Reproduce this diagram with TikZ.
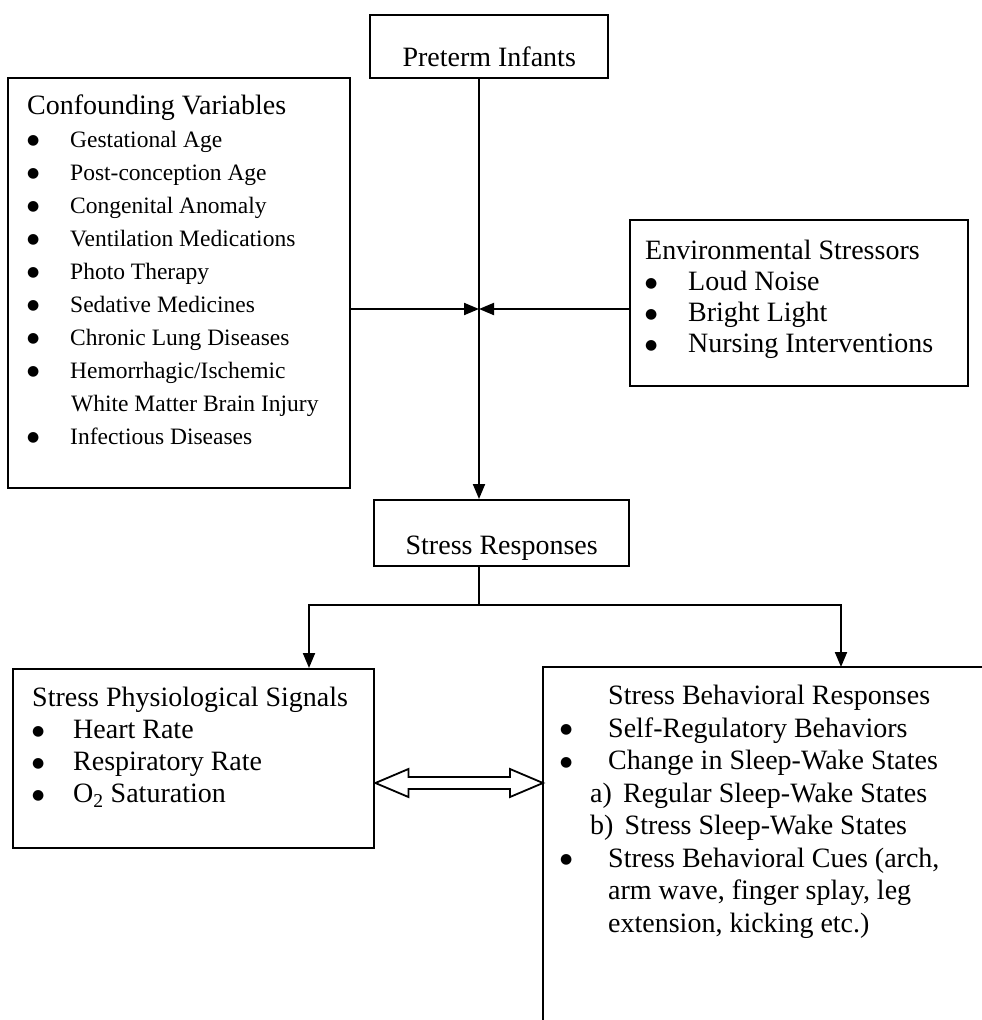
\documentclass[tikz,border=0pt]{standalone}
\usepackage{fontspec}
\setmainfont{Liberation Serif}
\newfontfamily\symfont{DejaVu Sans}
\usetikzlibrary{calc}
\usetikzlibrary{positioning,arrows.meta}
\tikzstyle{box} = [rectangle, draw=black, line width=2.4pt, inner sep=0pt, anchor=north west]
\tikzstyle{headbox} = [box, text depth=12pt, font=\fontsize{28}{32}\selectfont]
\tikzstyle{listtext} = [anchor=north west, align=left, inner sep=0pt]
\tikzstyle{arrow} = [-{Triangle[length=15pt,width=12pt]}, line width=2pt]
\tikzstyle{hollow} = [line width=1.8pt, line join=miter]
\newcommand{\bul}[1]% #1 = width of the bullet column
{\makebox[#1][l]{\raisebox{3.5pt}{\symfont\fontsize{14}{14}\selectfont ●}}}

\begin{document}
\begin{tikzpicture}[x=1pt, y=-1pt]
		\useasboundingbox (0,0) rectangle (982,1020);
		
		\node (preterm) [headbox, minimum width=238pt, text height=51pt] at (369,14) {Preterm Infants};
		\node (conf) [box, minimum width=342pt, minimum height=410pt] at (7,77) {};
		\node (env) [box, minimum width=338pt, minimum height=166pt] at (629,219) {};
		\node (responses) [headbox, minimum width=255pt, text height=54pt] at (373,499) {Stress Responses};
		\node (physio) [box, minimum width=361pt, minimum height=179pt] at (12,668) {};
		\node (behav) [box, draw=none, outer sep=0pt, minimum width=439pt, minimum height=353pt] at (543,667) {};
		\draw [line width=2.4pt] (behav.south west) -- (behav.north west) -- (behav.north east);
		
		\node (conf-list) [listtext, font=\fontsize{23.5}{33}\selectfont] at (27,95)
		{{\fontsize{28}{33}\selectfont Confounding Variables}\\
			\bul{43pt}Gestational Age\\
			\bul{43pt}Post-conception Age\\
			\bul{43pt}Congenital Anomaly\\
			\bul{43pt}Ventilation Medications\\
			\bul{43pt}Photo Therapy\\
			\bul{43pt}Sedative Medicines\\
			\bul{43pt}Chronic Lung Diseases\\
			\bul{43pt}Hemorrhagic/Ischemic\\
			\hspace*{44pt}White Matter Brain Injury\\
			\bul{43pt}Infectious Diseases};
		\node (env-list) [listtext, font=\fontsize{28}{31}\selectfont] at (645,240)
		{Environmental Stressors\\
			\bul{43pt}Loud Noise\\
			\bul{43pt}Bright Light\\
			\bul{43pt}Nursing Interventions};
		\node (physio-list) [listtext, font=\fontsize{28}{32}\selectfont] at (32,687)
		{Stress Physiological Signals\\
			\bul{41pt}Heart Rate\\
			\bul{41pt}Respiratory Rate\\
			\bul{41pt}O\textsubscript{2} Saturation};
		\node (behav-list) [listtext, font=\fontsize{28}{32.5}\selectfont] at (560,685)
		{\hspace*{48pt}Stress Behavioral Responses\\
			\bul{48pt}Self-Regulatory Behaviors\\
			\bul{48pt}Change in Sleep-Wake States\\
			\hspace*{30pt}a)\hspace{0.4em}Regular Sleep-Wake States\\
			\hspace*{30pt}b)\hspace{0.4em}Stress Sleep-Wake States\\
			\bul{48pt}Stress Behavioral Cues (arch,\\
			\hspace*{48pt}arm wave, finger splay, leg\\
			\hspace*{48pt}extension, kicking etc.)};
		
		\coordinate (hub) at (479,309);
		\coordinate (split) at (hub |- 0,605);
		
		\draw [arrow] (preterm.south -| hub) -- (responses.north -| hub);
		\draw [arrow] (conf.east |- hub) -- (hub);
		\draw [arrow] (env.west |- hub) -- (hub);
		\draw [arrow] (responses.south -| split) -- (split) -| (physio.north -| 309,0);
		\draw [arrow] (split) -| (behav.north -| 841,0);
		
		\draw [hollow] (physio.east |- 0,783) -- ++(33,-14) -- ++(0,8)
		-- ($(behav.west |- 0,783)+(-33,-6)$) -- ++(0,-8) -- (behav.west |- 0,783)
		-- ++(-33,14) -- ++(0,-8) -- ($(physio.east |- 0,783)+(33,6)$) -- ++(0,8) -- cycle;
	
	\end{tikzpicture}
\end{document}
